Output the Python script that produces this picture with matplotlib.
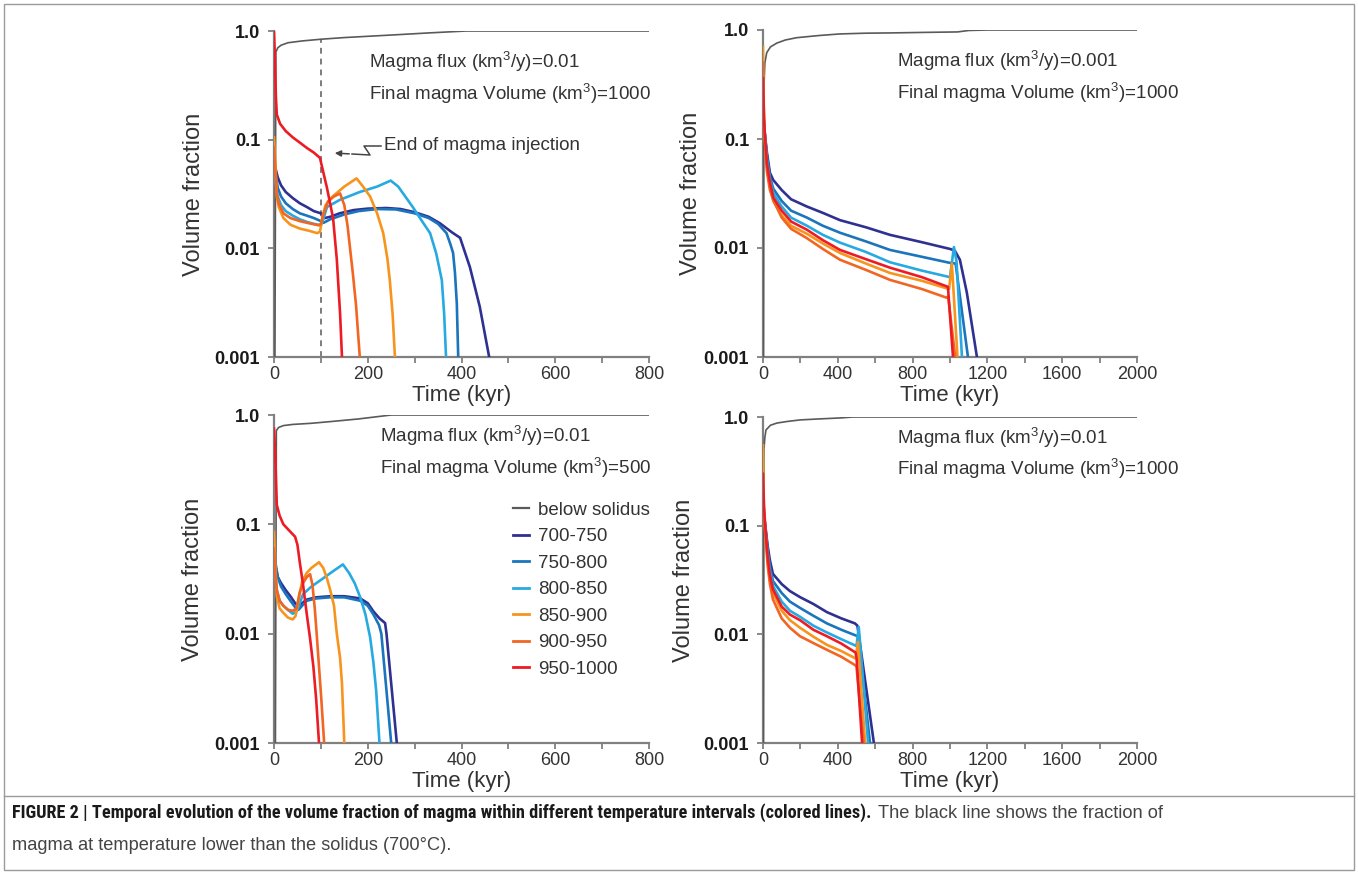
import matplotlib
matplotlib.use('Agg')
import matplotlib.pyplot as plt
from matplotlib import font_manager
from matplotlib.lines import Line2D
from matplotlib.patches import Rectangle
from matplotlib.ticker import FixedLocator, NullLocator, FixedFormatter

plt.rcParams['font.family'] = ['Liberation Sans', 'DejaVu Sans']
plt.rcParams['mathtext.default'] = 'regular'

# ---------------- data ----------------
series_labels = ['below solidus', '700-750', '750-800', '800-850', '850-900', '900-950', '950-1000']
series_colors = ['#5a5a5a', '#2e3192', '#1b75bc', '#27aae1', '#f7941d', '#f26522', '#ed1c24']

yticks = [0.001, 0.01, 0.1, 1.0]
ytick_labels = ['0.001', '0.01', '0.1', '1.0']
xticks_short = [0, 200, 400, 600, 800]
xticks_long = [0, 400, 800, 1200, 1600, 2000]

# Panel A: flux 0.01, volume 1000
A_below = [(0, 0.001), (2, 0.001), (4, 0.64), (8, 0.70), (15, 0.74), (30, 0.78), (60, 0.81), (100, 0.84),
           (150, 0.87), (254, 0.92), (330, 0.96), (410, 1.0), (800, 1.0)]
A_700 = [(0, 0.06), (3, 0.055), (8, 0.045), (15, 0.038), (25, 0.033), (40, 0.029), (55, 0.026), (70, 0.024),
         (85, 0.022), (100, 0.021), (108, 0.019), (120, 0.0195), (140, 0.021), (170, 0.0225), (200, 0.0232),
         (240, 0.0235), (270, 0.023), (300, 0.0215), (330, 0.0195), (354, 0.017), (380, 0.014), (397, 0.0125),
         (418, 0.0067), (439, 0.0029), (459, 0.001)]
A_750 = [(0, 0.07), (3, 0.05), (8, 0.036), (15, 0.03), (25, 0.026), (40, 0.023), (55, 0.021), (70, 0.02),
         (85, 0.019), (100, 0.0178), (106, 0.0172), (120, 0.0185), (150, 0.0205), (180, 0.022), (220, 0.023),
         (260, 0.0228), (300, 0.021), (330, 0.019), (350, 0.0168), (368, 0.0138), (376, 0.011), (382, 0.0091),
         (386, 0.006), (390, 0.0031), (393, 0.001)]
A_800 = [(0, 0.05), (3, 0.04), (8, 0.03), (15, 0.025), (25, 0.022), (40, 0.02), (55, 0.0185), (70, 0.0175),
         (85, 0.0168), (100, 0.0163), (106, 0.019), (113, 0.024), (141, 0.028), (183, 0.033), (220, 0.037),
         (249, 0.042), (265, 0.037), (280, 0.03), (296, 0.024), (315, 0.018), (333, 0.0138), (346, 0.009),
         (358, 0.0051), (363, 0.0025), (367, 0.001)]
A_850 = [(0, 0.105), (3, 0.06), (6, 0.03), (10, 0.024), (20, 0.019), (35, 0.0165), (55, 0.0152), (75, 0.0145),
         (92, 0.0138), (98, 0.0142), (104, 0.02), (110, 0.025), (125, 0.03), (150, 0.037), (176, 0.044),
         (190, 0.037), (205, 0.03), (220, 0.021), (233, 0.0138), (242, 0.008), (247, 0.0051), (253, 0.0025),
         (258, 0.001)]
A_900 = [(0, 0.085), (3, 0.05), (6, 0.032), (10, 0.026), (20, 0.021), (35, 0.019), (55, 0.0178), (75, 0.017),
         (95, 0.0163), (100, 0.0168), (106, 0.021), (115, 0.027), (128, 0.03), (141, 0.032), (150, 0.025),
         (157, 0.016), (162, 0.0102), (168, 0.006), (175, 0.003), (183, 0.001)]
A_950 = [(0, 1.0), (2, 0.55), (4, 0.25), (6, 0.17), (13, 0.14), (25, 0.12), (40, 0.105), (55, 0.094),
         (70, 0.084), (85, 0.076), (98, 0.068), (113, 0.036), (126, 0.019), (134, 0.0079), (141, 0.0025),
         (145, 0.001)]

# Panel B: flux 0.001, volume 1000
B_below = [(0, 0.001), (3, 0.001), (5, 0.3), (10, 0.5), (20, 0.62), (40, 0.7), (75, 0.76), (120, 0.81),
           (180, 0.85), (300, 0.89), (410, 0.92), (550, 0.935), (680, 0.94), (850, 0.95), (1040, 0.96),
           (1100, 0.99), (1200, 1.0), (2000, 1.0)]
B_700 = [(0, 0.15), (5, 0.13), (10, 0.11), (21, 0.075), (37, 0.049), (55, 0.042), (100, 0.034), (150, 0.028),
         (235, 0.024), (320, 0.021), (412, 0.018), (550, 0.0155), (679, 0.0132), (850, 0.0113), (1000, 0.0098),
         (1025, 0.0095), (1053, 0.0078), (1090, 0.0039), (1144, 0.001)]
B_750 = [(0, 0.18), (5, 0.14), (10, 0.11), (21, 0.07), (37, 0.045), (55, 0.035), (100, 0.027), (150, 0.022),
         (235, 0.019), (320, 0.016), (412, 0.0138), (550, 0.0115), (679, 0.0096), (850, 0.0083), (1000, 0.0073),
         (1030, 0.0072), (1096, 0.001)]
B_800 = [(0, 0.2), (5, 0.14), (10, 0.11), (21, 0.065), (37, 0.042), (55, 0.032), (100, 0.024), (150, 0.019),
         (235, 0.016), (320, 0.0132), (412, 0.0112), (550, 0.0092), (679, 0.0074), (850, 0.0062), (1000, 0.0054),
         (1021, 0.0102), (1035, 0.0075), (1064, 0.001)]
B_850 = [(0, 0.7), (5, 0.17), (10, 0.1), (21, 0.055), (37, 0.037), (55, 0.027), (100, 0.02), (150, 0.016),
         (235, 0.0135), (320, 0.011), (412, 0.009), (550, 0.0072), (679, 0.0059), (850, 0.005), (995, 0.0042),
         (1010, 0.0072), (1040, 0.001)]
B_900 = [(0, 0.5), (5, 0.15), (10, 0.095), (21, 0.05), (37, 0.034), (55, 0.0275), (100, 0.019), (150, 0.015),
         (235, 0.0123), (320, 0.0098), (412, 0.0078), (550, 0.0063), (679, 0.0051), (850, 0.0042), (982, 0.0035),
         (990, 0.0036), (1028, 0.001)]
B_950 = [(0, 0.36), (5, 0.16), (10, 0.11), (21, 0.06), (37, 0.04), (55, 0.029), (100, 0.022), (150, 0.0175),
         (235, 0.0147), (320, 0.0118), (412, 0.0096), (550, 0.0079), (679, 0.0066), (850, 0.0054), (989, 0.0044),
         (1016, 0.001)]

# Panel C: flux 0.01, volume 500
C_below = [(0, 0.001), (3, 0.001), (5, 0.72), (10, 0.77), (20, 0.8), (40, 0.82), (80, 0.84), (120, 0.87),
           (180, 0.92), (250, 1.0), (800, 1.0)]
C_700 = [(0, 0.05), (3, 0.042), (8, 0.033), (15, 0.029), (25, 0.025), (35, 0.022), (45, 0.019), (52, 0.018),
         (60, 0.019), (70, 0.0205), (90, 0.0215), (120, 0.022), (150, 0.022), (184, 0.021), (200, 0.019),
         (212, 0.016), (225, 0.0138), (237, 0.0125), (240, 0.01), (262, 0.001)]
C_750 = [(0, 0.06), (3, 0.045), (8, 0.033), (15, 0.027), (25, 0.023), (35, 0.02), (45, 0.0175), (52, 0.0165),
         (60, 0.018), (70, 0.02), (90, 0.021), (120, 0.0215), (150, 0.0215), (184, 0.02), (200, 0.018),
         (212, 0.015), (224, 0.012), (229, 0.01), (250, 0.001)]
C_800 = [(0, 0.05), (3, 0.035), (6, 0.025), (12, 0.02), (20, 0.018), (30, 0.0165), (40, 0.0152), (48, 0.016),
         (55, 0.019), (62, 0.023), (80, 0.027), (100, 0.031), (125, 0.037), (147, 0.043), (160, 0.036),
         (172, 0.029), (184, 0.0215), (195, 0.015), (205, 0.0093), (212, 0.0055), (218, 0.003), (225, 0.001)]
C_850 = [(0, 0.085), (3, 0.04), (6, 0.022), (12, 0.017), (20, 0.0155), (30, 0.014), (40, 0.0135), (46, 0.0145),
         (52, 0.02), (60, 0.03), (70, 0.036), (80, 0.04), (96, 0.045), (105, 0.04), (113, 0.032), (120, 0.025),
         (128, 0.018), (134, 0.01), (141, 0.006), (145, 0.0035), (150, 0.001)]
C_900 = [(0, 0.06), (3, 0.035), (6, 0.025), (12, 0.02), (20, 0.018), (30, 0.0165), (40, 0.0162), (48, 0.017),
         (55, 0.024), (62, 0.029), (70, 0.033), (77, 0.035), (82, 0.028), (87, 0.017), (91, 0.01), (96, 0.005),
         (101, 0.0025), (107, 0.001)]
C_950 = [(0, 0.75), (3, 0.4), (6, 0.15), (12, 0.12), (20, 0.1), (30, 0.09), (45, 0.077), (50, 0.065),
         (55, 0.045), (62, 0.028), (70, 0.015), (77, 0.009), (84, 0.005), (90, 0.0025), (96, 0.001)]

# Panel D: flux 0.01, volume 1000
D_below = [(0, 0.001), (3, 0.001), (5, 0.5), (10, 0.65), (16, 0.76), (40, 0.84), (75, 0.88), (130, 0.91),
           (198, 0.94), (300, 0.96), (412, 0.98), (480, 1.0), (2000, 1.0)]
D_700 = [(0, 0.15), (5, 0.12), (12, 0.1), (25, 0.065), (37, 0.048), (53, 0.036), (100, 0.029), (144, 0.025),
         (198, 0.022), (270, 0.019), (342, 0.016), (420, 0.014), (492, 0.0126), (505, 0.012), (593, 0.001)]
D_750 = [(0, 0.18), (5, 0.13), (12, 0.1), (25, 0.06), (37, 0.042), (53, 0.031), (100, 0.024), (144, 0.02),
         (198, 0.0175), (270, 0.0148), (342, 0.0126), (420, 0.011), (500, 0.0097), (510, 0.0095), (572, 0.001)]
D_800 = [(0, 0.17), (5, 0.12), (12, 0.095), (25, 0.055), (37, 0.038), (53, 0.028), (100, 0.02), (144, 0.0165),
         (198, 0.0145), (270, 0.012), (342, 0.0104), (420, 0.009), (500, 0.0078), (512, 0.0117), (520, 0.008),
         (562, 0.001)]
D_850 = [(0, 0.55), (5, 0.15), (12, 0.09), (25, 0.048), (37, 0.032), (53, 0.024), (100, 0.0165), (144, 0.0135),
         (198, 0.0115), (270, 0.0095), (342, 0.008), (420, 0.007), (495, 0.006), (508, 0.0085), (546, 0.001)]
D_900 = [(0, 0.25), (5, 0.13), (12, 0.085), (25, 0.043), (37, 0.029), (53, 0.021), (100, 0.014), (144, 0.0115),
         (198, 0.0096), (270, 0.0083), (342, 0.0072), (420, 0.0062), (493, 0.0052), (500, 0.005), (538, 0.001)]
D_950 = [(0, 0.3), (5, 0.15), (12, 0.1), (25, 0.052), (37, 0.035), (53, 0.026), (100, 0.018), (144, 0.0152),
         (198, 0.0135), (270, 0.011), (342, 0.0096), (420, 0.0082), (495, 0.0068), (500, 0.0062), (530, 0.001)]

injection_end = 100
flux_texts = ['Magma flux (km$^3$/y)=0.01', 'Magma flux (km$^3$/y)=0.001',
              'Magma flux (km$^3$/y)=0.01', 'Magma flux (km$^3$/y)=0.01']
vol_texts = ['Final magma Volume (km$^3$)=1000', 'Final magma Volume (km$^3$)=1000',
             'Final magma Volume (km$^3$)=500', 'Final magma Volume (km$^3$)=1000']

# ---------------- figure ----------------
W, H = 1358, 874
fig = plt.figure(figsize=(W / 100, H / 100), dpi=100)


def px_axes(l, t, r, b):
    return fig.add_axes([l / W, 1 - b / H, (r - l) / W, (b - t) / H])


axA = px_axes(274, 31, 649, 357)
axB = px_axes(763, 30, 1137, 357)
axC = px_axes(274, 415, 649, 743)
axD = px_axes(763, 417, 1137, 743)

panels = [
    (axA, [A_below, A_700, A_750, A_800, A_850, A_900, A_950], 800, xticks_short, 100, -0.184),
    (axB, [B_below, B_700, B_750, B_800, B_850, B_900, B_950], 2000, xticks_long, 200, -0.163),
    (axC, [C_below, C_700, C_750, C_800, C_850, C_900, C_950], 800, xticks_short, 100, -0.187),
    (axD, [D_below, D_700, D_750, D_800, D_850, D_900, D_950], 2000, xticks_long, 200, -0.182),
]

spine_c = '#808080'
for i, (ax, series, xmax, xt, minor_step, ylab_x) in enumerate(panels):
    for j, pts in enumerate(series):
        t = [p[0] for p in pts]
        v = [p[1] for p in pts]
        lw = 1.2 if j == 0 else 1.9
        ax.plot(t, v, color=series_colors[j], lw=lw, label=series_labels[j],
                solid_joinstyle='round', zorder=3 + j)
    ax.set_yscale('log')
    ax.set_ylim(0.001, 1.0)
    ax.set_xlim(0, xmax)
    ax.yaxis.set_major_locator(FixedLocator(yticks))
    ax.yaxis.set_major_formatter(FixedFormatter(ytick_labels))
    ax.yaxis.set_minor_locator(NullLocator())
    ax.xaxis.set_major_locator(FixedLocator(xt))
    ax.xaxis.set_minor_locator(FixedLocator([x + minor_step for x in xt[:-1]]))
    for s in ['top', 'right']:
        ax.spines[s].set_visible(False)
    for s in ['left', 'bottom']:
        ax.spines[s].set_color(spine_c)
        ax.spines[s].set_linewidth(1.6)
    ax.tick_params(axis='y', which='major', direction='out', length=4, width=1.3, color=spine_c,
                   pad=6, labelsize=13, labelcolor='#1a1a1a')
    ax.tick_params(axis='x', which='both', direction='out', length=4, width=1.3, color=spine_c,
                   pad=2.5, labelsize=13, labelcolor='#333333')
    for lab in ax.get_yticklabels():
        lab.set_fontweight('bold')
    ax.set_ylabel('Volume fraction', fontsize=17, color='#333333')
    ax.yaxis.set_label_coords(ylab_x, 0.5)
    ax.set_xlabel('Time (kyr)', fontsize=16, color='#333333')
    ax.xaxis.set_label_coords(0.5, -0.085)
    ax.patch.set_alpha(0)

    tx = 0.253 if i == 0 else (0.283 if i == 2 else 0.358)
    ty1, ty2 = (0.905, 0.807) if i < 2 else (0.937, 0.840)
    ax.text(tx, ty1, flux_texts[i], transform=ax.transAxes, fontsize=13.5, color='#333333', va='center')
    ax.text(tx, ty2, vol_texts[i], transform=ax.transAxes, fontsize=13.5, color='#333333', va='center')

# dashed line marking end of injection in panel A
axA.plot([injection_end, injection_end], [0.001, 0.84], color='#666666', lw=1.2,
         dashes=(3.5, 3), zorder=2)
axA.text(0.293, 0.650, 'End of magma injection', transform=axA.transAxes, fontsize=13.5,
         color='#333333', va='center')


def axfrac(ax_l, ax_t, ax_r, ax_b, x, y):
    return ((x - ax_l) / (ax_r - ax_l), (ax_b - y) / (ax_b - ax_t))


# lightning-like leader arrow
zig = [(381, 146), (364, 146), (370, 155), (352, 154)]
zx = [axfrac(274, 31, 649, 357, *p)[0] for p in zig]
zy = [axfrac(274, 31, 649, 357, *p)[1] for p in zig]
axA.plot(zx, zy, transform=axA.transAxes, color='#444444', lw=1.1, clip_on=False)
axA.annotate('', xy=axfrac(274, 31, 649, 357, 332, 153), xycoords='axes fraction',
             xytext=(zx[-1], zy[-1]), textcoords='axes fraction',
             arrowprops=dict(arrowstyle='-|>', color='#444444', lw=1.1, mutation_scale=9))

# legend in panel C
handles = [Line2D([0], [0], color=series_colors[k], lw=2.0 if k else 1.6) for k in range(7)]
axC.legend(handles, series_labels, loc='upper left', bbox_to_anchor=(0.612, 0.765), frameon=False,
           fontsize=13.5, handlelength=0.85, handletextpad=0.5, labelspacing=0.5, borderpad=0,
           labelcolor='#333333')

# frame and caption
fig.patches.append(Rectangle((4 / W, 1 - 870 / H), 1350 / W, 866 / H, transform=fig.transFigure,
                             fill=False, ec='#9a9a9a', lw=1.0))
fig.add_artist(Line2D([4 / W, 1354 / W], [1 - 796 / H, 1 - 796 / H], transform=fig.transFigure,
                      color='#9a9a9a', lw=1.0))

# choose a condensed face for the caption if one is installed
ttf = font_manager.fontManager.ttflist
cap_family, cap_stretch = 'Liberation Sans', 'normal'
pref = ['Liberation Sans Narrow', 'Roboto Condensed', 'Open Sans Condensed', 'DejaVu Sans', 'Noto Sans']
found = {}
for f in ttf:
    st = f.stretch if isinstance(f.stretch, str) else str(f.stretch)
    if 'Narrow' in f.name or 'Condensed' in f.name or 'condensed' in st:
        found.setdefault(f.name, st)
for name in pref:
    if name in found:
        cap_family, cap_stretch = name, found[name]
        break

cap_bold = ('FIGURE 2 | Temporal evolution of the volume fraction of magma within different '
            'temperature intervals (colored lines).')
cap_norm1 = 'The black line shows the fraction of'
cap_norm2 = 'magma at temperature lower than the solidus (700°C).'

fam = [cap_family, 'DejaVu Sans']
t1 = fig.text(12 / W, 1 - 813 / H, cap_bold, fontsize=13, fontweight='bold', family=fam,
              stretch=cap_stretch, color='#1a1a1a', va='center')
t2 = fig.text(0, 1 - 813 / H, cap_norm1, fontsize=13, family=['Liberation Sans', 'DejaVu Sans'],
              color='#444444', va='center')
t3 = fig.text(12 / W, 1 - 845 / H, cap_norm2, fontsize=13, family=['Liberation Sans', 'DejaVu Sans'],
              color='#444444', va='center')
fig.canvas.draw()
r = fig.canvas.get_renderer()
w1 = t1.get_window_extent(r).width
fs = min(13 * (868 - 12) / w1, 14.5)
for t in (t1, t2, t3):
    t.set_fontsize(fs)
bb = t1.get_window_extent(r)
t2.set_x((bb.x1 + 7) / W)

fig.savefig('out.png', dpi=100)
